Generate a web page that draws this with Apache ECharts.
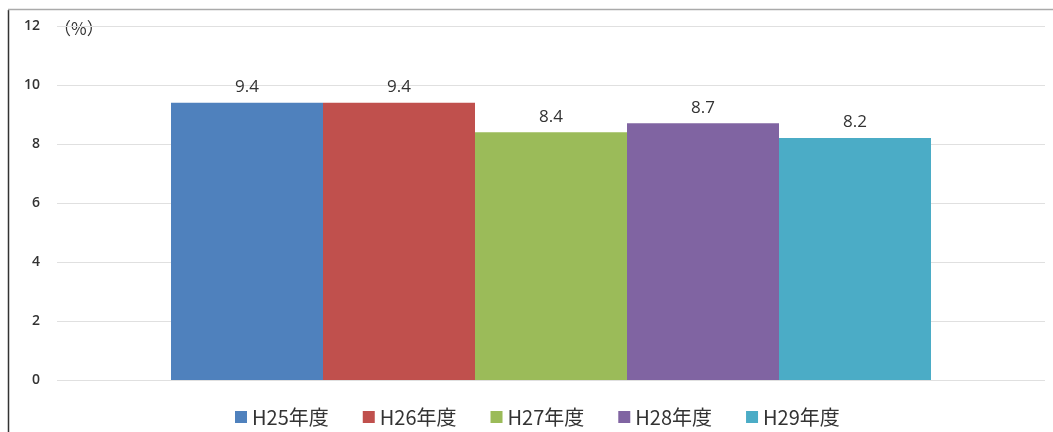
<!DOCTYPE html>
<html><head><meta charset="utf-8">
<script src="https://cdn.jsdelivr.net/npm/echarts@6/dist/echarts.min.js"></script>
<style>html,body{margin:0;padding:0;background:#fff;}#c{width:1053px;height:432px;}</style>
</head><body><div id="c"></div>
<script>
const categories = [''];
const seriesNames = ['H25年度', 'H26年度', 'H27年度', 'H28年度', 'H29年度'];
const seriesValues = [9.4, 9.4, 8.4, 8.7, 8.2];
const colors = ['#4f81bd', '#c0504d', '#9bbb59', '#8064a2', '#4bacc6'];
const yTicks = [0, 2, 4, 6, 8, 10, 12];

const chart = echarts.init(document.getElementById('c'));
chart.setOption({
  animation: false,
  color: colors,
  grid: { left: 57, right: 8, top: 26, bottom: 52 },
  legend: {
    top: 402, left: 230, itemWidth: 12, itemHeight: 12, itemGap: 34,
    icon: 'rect',
    textStyle: { fontSize: 20, color: '#333', fontFamily: 'Noto Sans CJK JP' }
  },
  xAxis: {
    type: 'category', data: categories,
    axisLine: { show: false }, axisTick: { show: false }, axisLabel: { show: false }
  },
  yAxis: {
    type: 'value', min: 0, max: 12, interval: 2,
    axisLine: { show: false }, axisTick: { show: false },
    axisLabel: { fontSize: 14, color: '#333', margin: 17, fontFamily: 'Open Sans', fontWeight: 600 },
    splitLine: { lineStyle: { color: '#e0e0e0' } }
  },
  graphic: [
    { type: 'line', shape: { x1: 8.5, y1: 10, x2: 8.5, y2: 432 }, style: { stroke: '#333', lineWidth: 1.5 } },
    { type: 'line', shape: { x1: 8, y1: 9.5, x2: 1053, y2: 9.5 }, style: { stroke: '#aaa', lineWidth: 1.5 } },
    { type: 'text', left: 54, top: 20, style: { text: '（%）', fontSize: 17, fill: '#333', fontFamily: 'Noto Sans CJK JP' } }
  ],
  series: seriesNames.map((n, i) => ({
    name: n, type: 'bar', barWidth: 152, barGap: '0%',
    data: [seriesValues[i]],
    label: { show: true, position: 'top', distance: 7, fontSize: 17, color: '#333', fontFamily: 'Open Sans', formatter: p => p.value.toFixed(1) }
  }))
});
</script></body></html>
